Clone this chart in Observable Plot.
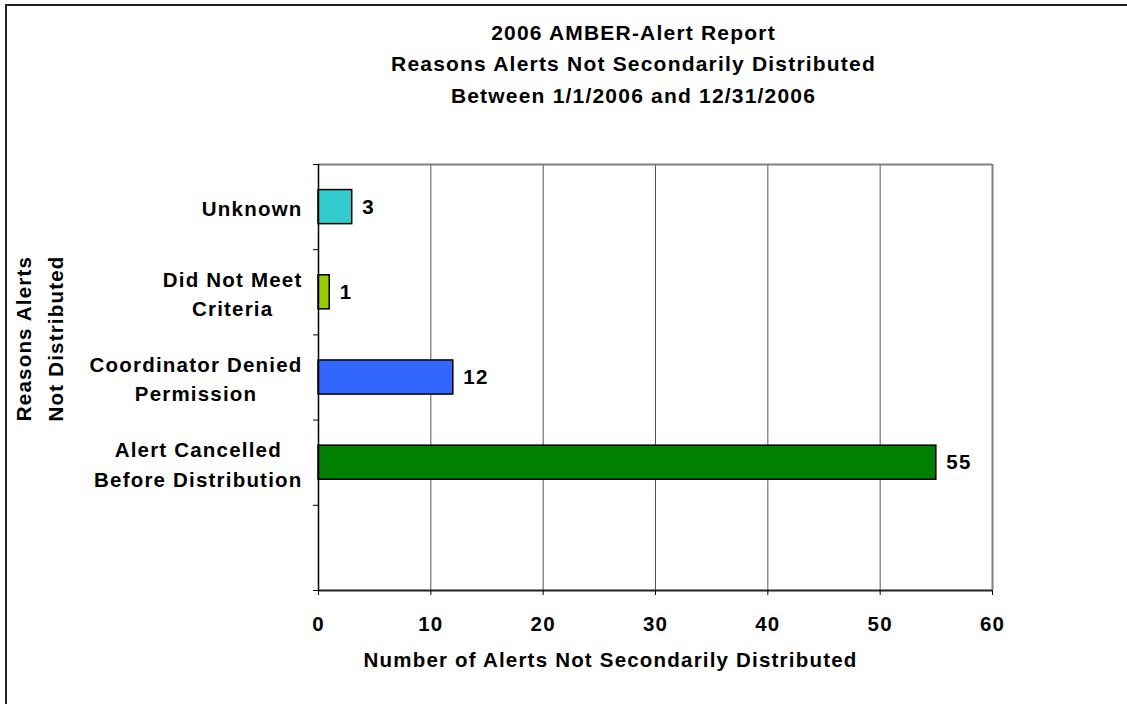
<!DOCTYPE html>
<html><head><meta charset="utf-8">
<script src="https://cdn.jsdelivr.net/npm/d3@7"></script>
<script src="https://cdn.jsdelivr.net/npm/@observablehq/plot@0.6"></script>
<style>
html,body{margin:0;padding:0;background:#fff;overflow:hidden;}
#chart{position:absolute;left:0;top:0;}
#border{position:absolute;left:5px;top:4px;width:1200px;height:800px;border-left:2px solid #222;border-top:2px solid #222;pointer-events:none;}
svg text{font-weight:bold;letter-spacing:1.2px;}
</style></head><body>
<div id="chart"></div><div id="border"></div>
<script>
const titleLines = ["2006 AMBER-Alert Report", "Reasons Alerts Not Secondarily Distributed", "Between 1/1/2006 and 12/31/2006"];
const categories = ["Unknown", "Did Not Meet\nCriteria", "Coordinator Denied\nPermission", "Alert Cancelled\nBefore Distribution", ""];
const values = [3, 1, 12, 55, null];
const colors = ["#33CCCC", "#99CC00", "#3366FF", "#008000", null];
const xTicks = [0, 10, 20, 30, 40, 50, 60];
const xLabel = "Number of Alerts Not Secondarily Distributed";
const yLabel = "Reasons Alerts\nNot Distributed";

const slots = categories.length;
const rows = categories.map((c, i) => ({category: c, value: values[i], color: colors[i], pos: slots - 0.5 - i}));
const bars = rows.filter(d => d.value != null);
const half = 0.2;

const plot = Plot.plot({
  width: 1127, height: 704,
  marginLeft: 318, marginRight: 135, marginTop: 164, marginBottom: 114,
  style: {fontFamily: "'Liberation Sans', Arial, sans-serif", fontSize: "20.5px", color: "#000", background: "#fff"},
  x: {domain: [0, 60]},
  y: {domain: [0, slots]},
  marks: [
    Plot.gridX(xTicks.filter(t => t > 0 && t < 60), {stroke: "#555", strokeOpacity: 1, strokeWidth: 1}),
    Plot.ruleY([slots], {stroke: "#808080", strokeWidth: 2}),
    Plot.ruleX([60], {stroke: "#808080", strokeWidth: 2}),
    Plot.rectX(bars, {x1: 0, x2: "value", y1: d => d.pos - half, y2: d => d.pos + half, fill: "color", stroke: "#000", strokeWidth: 1.5}),
    Plot.text(bars, {x: "value", y: "pos", text: d => String(d.value), dx: 10, textAnchor: "start", fontSize: 20.5}),
    Plot.ruleX([0], {stroke: "#000", strokeWidth: 1.5}),
    Plot.ruleY([0], {stroke: "#222", strokeWidth: 2}),
    Plot.axisX({ticks: xTicks, tickSize: 5, tickPadding: 21, label: null, tickFormat: d => String(d)}),
    Plot.axisY({ticks: d3.range(0, slots + 1), tickSize: 5, tickFormat: () => "", label: null}),
    Plot.axisY({ticks: rows.map(d => d.pos), tickSize: 0, tickPadding: 16, label: null, lineHeight: 1.42,
      tickFormat: v => rows.find(r => r.pos === v).category}),
    Plot.text([xLabel], {frameAnchor: "bottom", dx: -45, dy: 70, lineAnchor: "middle"}),
    Plot.text([yLabel], {frameAnchor: "left", rotate: -90, dx: -282, dy: -39, lineHeight: 1.56, textAnchor: "middle", lineAnchor: "middle"}),
    Plot.text([titleLines.join("\n")], {frameAnchor: "top", dx: -22, dy: -103, lineHeight: 1.48, fontSize: 21, textAnchor: "middle", lineAnchor: "middle"})
  ]
});
document.getElementById("chart").append(plot);
plot.querySelectorAll('g[aria-label="y-axis tick label"] text').forEach(t => {
  const ts = t.querySelectorAll("tspan");
  if (ts.length < 2) return;
  const w = t.getBBox().width;
  t.setAttribute("text-anchor", "middle");
  ts.forEach(s => s.setAttribute("x", -w / 2));
});
</script>
</body></html>
